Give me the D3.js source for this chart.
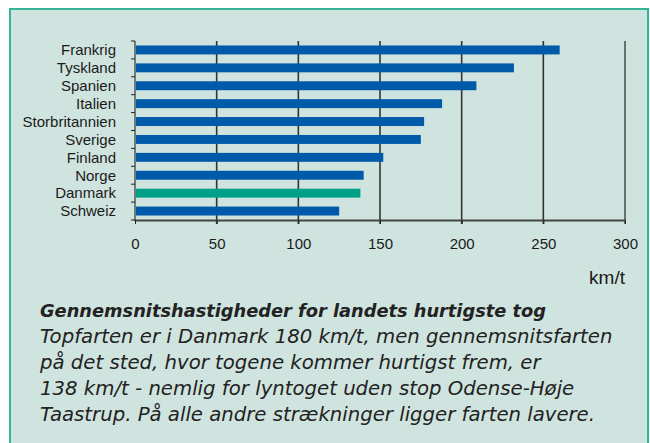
<!DOCTYPE html>
<html>
<head>
<meta charset="utf-8">
<script src="https://cdn.jsdelivr.net/npm/d3@7"></script>
<style>
body { margin: 0; background: #fff; }
svg { display: block; }
.ylab, .xlab { font-family: "Liberation Sans", Arial, sans-serif; font-size: 15px; fill: #1a1a1a; }
.unit { font-family: "Liberation Sans", Arial, sans-serif; font-size: 19px; fill: #1a1a1a; }
.cap { font-family: "DejaVu Sans", sans-serif; font-style: italic; font-size: 19.7px; fill: #222; }
.capTitle { font-weight: bold; font-size: 17.8px; }
</style>
</head>
<body>
<script>
(function(){
//chart data
var countries = ["Frankrig", "Tyskland", "Spanien", "Italien", "Storbritannien", "Sverige", "Finland", "Norge", "Danmark", "Schweiz"];
var speeds = [260, 232, 209, 188, 177, 175, 152, 140, 138, 125];
var xTicks = [0, 50, 100, 150, 200, 250, 300];
var highlight = "Danmark";
var captionTitle = "Gennemsnitshastigheder for landets hurtigste tog";
var captionLines = [
    "Topfarten er i Danmark 180 km/t, men gennemsnitsfarten",
    "på det sted, hvor togene kommer hurtigst frem, er",
    "138 km/t - nemlig for lyntoget uden stop Odense-Høje",
    "Taastrup. På alle andre strækninger ligger farten lavere."
];

var width = 650, height = 443;

var svg = d3.select("body")
    .append("svg")
    .attr("width", width)
    .attr("height", height);

//panel background with teal border (open at the bottom)
svg.append("rect")
    .attr("x", 10).attr("y", 9)
    .attr("width", 638).attr("height", 460)
    .attr("fill", "#d0e4df")
    .attr("stroke", "#35b598")
    .attr("stroke-width", 2);

//scales
var x = d3.scaleLinear()
    .domain([0, 300])
    .range([135, 625]);

var y = d3.scaleBand()
    .domain(countries)
    .range([41, 220])
    .paddingInner(0.5)
    .paddingOuter(0.25);

var yEdges = d3.scaleBand()
    .domain(countries)
    .range([41, 220]);

//vertical gridlines
svg.selectAll(".grid")
    .data(xTicks.slice(1))
    .enter()
    .append("line")
    .attr("class", "grid")
    .attr("x1", function(d){ return x(d); })
    .attr("x2", function(d){ return x(d); })
    .attr("y1", 41)
    .attr("y2", 224)
    .attr("stroke", function(d){ return d == 300 ? "#000" : "#333"; })
    .attr("stroke-width", function(d){ return d == 300 ? 1 : 1.6; });

//bars
svg.selectAll(".bar")
    .data(countries)
    .enter()
    .append("rect")
    .attr("class", "bar")
    .attr("x", x(0) + 1)
    .attr("y", function(d){ return y(d); })
    .attr("width", function(d, i){ return x(speeds[i]) - x(0) - 1; })
    .attr("height", y.bandwidth())
    .attr("fill", function(d){ return d == highlight ? "#00a088" : "#005aaa"; });

//bottom axis
var xAxis = d3.axisBottom(x)
    .tickValues(xTicks)
    .tickSize(4)
    .tickPadding(14)
    .tickSizeOuter(0);

var gx = svg.append("g")
    .attr("transform", "translate(0,220)")
    .call(xAxis);
gx.select(".domain").attr("stroke", "#444").attr("stroke-width", 2);
gx.selectAll(".tick line").attr("stroke", "#222");
gx.selectAll(".tick text").attr("class", "xlab").attr("fill", null);

//left axis with ticks at band edges
svg.append("line")
    .attr("x1", x(0)).attr("x2", x(0))
    .attr("y1", 41).attr("y2", 221)
    .attr("stroke", "#111").attr("stroke-width", 1);

var edges = countries.map(function(d){ return yEdges(d); }).concat([220]);
svg.selectAll(".ytick")
    .data(edges)
    .enter()
    .append("line")
    .attr("class", "ytick")
    .attr("x1", x(0) - 4).attr("x2", x(0))
    .attr("y1", function(d){ return d; })
    .attr("y2", function(d){ return d; })
    .attr("stroke", "#222");

svg.selectAll(".ylab")
    .data(countries)
    .enter()
    .append("text")
    .attr("class", "ylab")
    .attr("x", 116)
    .attr("y", function(d){ return y(d) + y.bandwidth() / 2; })
    .attr("dy", "0.35em")
    .attr("text-anchor", "end")
    .text(function(d){ return d; });

//unit label
svg.append("text")
    .attr("class", "unit")
    .attr("x", 625)
    .attr("y", 284)
    .attr("text-anchor", "end")
    .text("km/t");

//caption
svg.append("text")
    .attr("class", "cap capTitle")
    .attr("x", 40)
    .attr("y", 317)
    .text(captionTitle);

svg.selectAll(".capLine")
    .data(captionLines)
    .enter()
    .append("text")
    .attr("class", "cap capLine")
    .attr("x", 40)
    .attr("y", function(d, i){ return 343 + i * 26; })
    .text(function(d){ return d; });
})();
</script>
</body>
</html>
